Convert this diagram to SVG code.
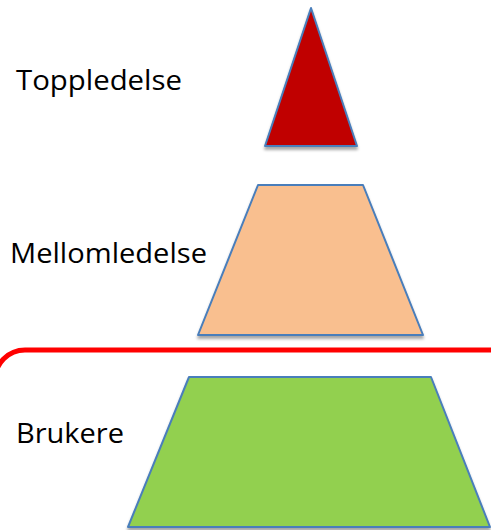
<svg xmlns="http://www.w3.org/2000/svg" width="491" height="530" viewBox="0 0 491 530">
  <style>
    .lvl { stroke: #4a7ebb; stroke-width: 2; stroke-linejoin: round; filter: url(#shadow); }
    .lbl { font-family: "Open Sans", "Noto Sans", "Liberation Sans", sans-serif; font-size: 27px; fill: #000; }
  </style>
  <defs>
    <filter id="shadow" x="-10%" y="-10%" width="120%" height="130%">
      <feGaussianBlur in="SourceAlpha" stdDeviation="1.5"/>
      <feOffset dx="0" dy="3" result="b"/>
      <feComponentTransfer><feFuncA type="linear" slope="0.35"/></feComponentTransfer>
      <feMerge><feMergeNode/><feMergeNode in="SourceGraphic"/></feMerge>
    </filter>
  </defs>
  <rect width="491" height="530" fill="#fff"/>

  <g id="top">
    <polygon class="lvl" points="311,8 357,146 265,146" fill="#c00000"/>
    <text class="lbl" x="16" y="90" textLength="166" lengthAdjust="spacingAndGlyphs">Toppledelse</text>
  </g>

  <g id="middle">
    <polygon class="lvl" points="258,185 363,185 423,335 198,335" fill="#f9bf8f"/>
    <text class="lbl" x="10" y="263" textLength="197" lengthAdjust="spacingAndGlyphs">Mellomledelse</text>
  </g>

  <g id="users">
    <polygon class="lvl" points="189,377 431,377 490,527 128,527" fill="#92d050"/>
    <text class="lbl" x="16" y="443" textLength="108" lengthAdjust="spacingAndGlyphs">Brukere</text>
  </g>

  <g id="connectors">
    <path d="M -5 380 A 30 30 0 0 1 25 350 H 491" fill="none" stroke="#ff0000" stroke-width="5"/>
  </g>
</svg>
